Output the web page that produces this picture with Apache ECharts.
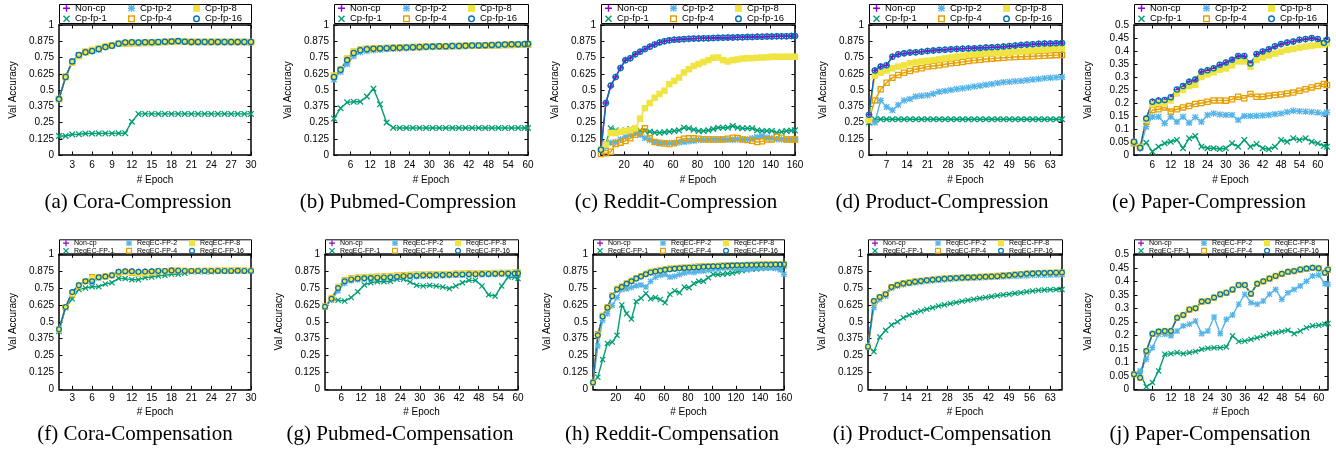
<!DOCTYPE html>
<html>
<head>
<meta charset="utf-8">
<script src="https://cdn.jsdelivr.net/npm/echarts@6.0.0/dist/echarts.min.js"></script>
<style>
html, body { margin: 0; padding: 0; background: #fff; }
#chart { width: 1336px; height: 451px; }
</style>
</head>
<body>
<div id="chart"></div>
<script>
// ---- series names ----
const compressionNames = ["Non-cp", "Cp-fp-1", "Cp-fp-2", "Cp-fp-4", "Cp-fp-8", "Cp-fp-16"];
const compensationNames = ["Non-cp", "ReqEC-FP-1", "ReqEC-FP-2", "ReqEC-FP-4", "ReqEC-FP-8", "ReqEC-FP-16"];

// ---- epochs (x values) and tick labels ----
const coraEpochs = [1,2,3,4,5,6,7,8,9,10,11,12,13,14,15,16,17,18,19,20,21,22,23,24,25,26,27,28,29,30];
const pubmedEpochs = [1,3,5,7,9,11,13,15,17,19,21,23,25,27,29,31,33,35,37,39,41,43,45,47,49,51,53,55,57,59,60];
const redditEpochs = [1,5,9,13,17,21,25,29,33,37,41,45,49,53,57,61,65,69,73,77,81,85,89,93,97,101,105,109,113,117,121,125,129,133,137,141,145,149,153,157,160];
const productEpochs = [1,3,5,7,9,11,13,15,17,19,21,23,25,27,29,31,33,35,37,39,41,43,45,47,49,51,53,55,57,59,61,63,65,67];
const paperEpochs = [0,2,4,6,8,10,12,14,16,18,20,22,24,26,28,30,32,34,36,38,40,42,44,46,48,50,52,54,56,58,60,62,63];

const coraTicks = [3,6,9,12,15,18,21,24,27,30];
const pubmedTicks = [6,12,18,24,30,36,42,48,54,60];
const redditTicks = [20,40,60,80,100,120,140,160];
const productTicks = [7,14,21,28,35,42,49,56,63];
const paperTicks = [6,12,18,24,30,36,42,48,54,60];

// ---- (a) Cora-Compression ----
const coraCpNonCp = [0.43,0.60,0.72,0.765,0.79,0.80,0.815,0.83,0.84,0.855,0.865,0.866,0.866,0.866,0.867,0.868,0.872,0.874,0.875,0.872,0.87,0.87,0.87,0.87,0.87,0.87,0.87,0.87,0.87,0.87];
const coraCpFp1 = [0.146,0.146,0.158,0.16,0.165,0.165,0.166,0.166,0.166,0.167,0.168,0.256,0.316,0.316,0.316,0.316,0.316,0.316,0.316,0.316,0.316,0.316,0.316,0.316,0.316,0.316,0.316,0.316,0.316,0.316];
const coraCpFp2 = [0.43,0.605,0.72,0.77,0.79,0.80,0.81,0.83,0.84,0.855,0.863,0.865,0.865,0.866,0.866,0.868,0.87,0.874,0.875,0.872,0.87,0.87,0.869,0.87,0.87,0.87,0.87,0.87,0.87,0.87];
const coraCpFp4 = [0.43,0.60,0.71,0.765,0.795,0.805,0.82,0.835,0.845,0.855,0.858,0.86,0.86,0.862,0.862,0.866,0.87,0.872,0.875,0.872,0.87,0.87,0.87,0.87,0.87,0.87,0.87,0.87,0.87,0.868];
const coraCpFp8 = [0.43,0.60,0.71,0.76,0.79,0.81,0.82,0.835,0.84,0.855,0.86,0.862,0.862,0.864,0.864,0.866,0.87,0.874,0.876,0.873,0.871,0.87,0.87,0.87,0.87,0.87,0.87,0.87,0.87,0.87];
const coraCpFp16 = [0.43,0.60,0.72,0.77,0.79,0.80,0.815,0.83,0.84,0.856,0.866,0.867,0.866,0.867,0.868,0.869,0.872,0.874,0.876,0.872,0.87,0.87,0.87,0.87,0.87,0.87,0.87,0.87,0.87,0.87];

// ---- (b) Pubmed-Compression ----
const pubmedCpNonCp = [0.60,0.655,0.73,0.787,0.808,0.815,0.818,0.82,0.822,0.823,0.825,0.827,0.829,0.83,0.832,0.834,0.835,0.836,0.837,0.838,0.839,0.84,0.842,0.843,0.845,0.846,0.848,0.849,0.85,0.852,0.853];
const pubmedCpFp1 = [0.28,0.36,0.405,0.41,0.41,0.45,0.51,0.39,0.25,0.21,0.208,0.208,0.208,0.208,0.208,0.208,0.208,0.208,0.208,0.208,0.208,0.208,0.208,0.208,0.208,0.208,0.208,0.208,0.208,0.208,0.208];
const pubmedCpFp2 = [0.58,0.64,0.70,0.76,0.79,0.80,0.805,0.81,0.815,0.818,0.82,0.822,0.825,0.827,0.829,0.83,0.832,0.833,0.835,0.836,0.838,0.839,0.84,0.842,0.843,0.845,0.846,0.848,0.849,0.85,0.852];
const pubmedCpFp4 = [0.61,0.66,0.74,0.795,0.812,0.818,0.82,0.822,0.823,0.825,0.826,0.828,0.83,0.831,0.833,0.835,0.836,0.837,0.838,0.839,0.84,0.841,0.842,0.843,0.844,0.845,0.846,0.847,0.848,0.849,0.85];
const pubmedCpFp8 = [0.61,0.66,0.735,0.79,0.81,0.816,0.82,0.821,0.823,0.824,0.826,0.828,0.83,0.831,0.833,0.834,0.836,0.837,0.838,0.839,0.84,0.841,0.843,0.844,0.846,0.847,0.849,0.85,0.851,0.853,0.854];
const pubmedCpFp16 = [0.60,0.655,0.73,0.785,0.806,0.814,0.818,0.82,0.822,0.823,0.825,0.827,0.829,0.831,0.833,0.834,0.836,0.837,0.838,0.839,0.84,0.842,0.843,0.845,0.847,0.848,0.85,0.851,0.852,0.854,0.855];

// ---- (c) Reddit-Compression ----
const redditCpNonCp = [0.04,0.40,0.53,0.60,0.67,0.73,0.745,0.775,0.795,0.815,0.835,0.85,0.865,0.875,0.882,0.886,0.889,0.891,0.893,0.895,0.897,0.898,0.899,0.90,0.90,0.901,0.902,0.904,0.905,0.906,0.907,0.908,0.909,0.91,0.911,0.912,0.913,0.913,0.914,0.915,0.915];
const redditCpFp1 = [0.04,0.09,0.205,0.19,0.18,0.19,0.20,0.19,0.19,0.185,0.18,0.172,0.172,0.175,0.18,0.185,0.19,0.21,0.205,0.195,0.185,0.185,0.19,0.20,0.21,0.21,0.21,0.223,0.21,0.205,0.205,0.205,0.19,0.185,0.185,0.185,0.172,0.178,0.185,0.188,0.19];
const redditCpFp2 = [0.04,0.065,0.095,0.10,0.12,0.14,0.155,0.167,0.155,0.13,0.115,0.10,0.095,0.093,0.093,0.095,0.097,0.10,0.105,0.11,0.115,0.118,0.12,0.12,0.12,0.12,0.118,0.118,0.12,0.12,0.12,0.128,0.138,0.146,0.135,0.128,0.122,0.12,0.12,0.12,0.12];
const redditCpFp4 = [0.008,0.013,0.025,0.085,0.095,0.108,0.128,0.155,0.175,0.205,0.128,0.10,0.092,0.088,0.085,0.09,0.115,0.125,0.128,0.128,0.125,0.122,0.12,0.12,0.12,0.12,0.125,0.133,0.13,0.12,0.115,0.11,0.10,0.105,0.12,0.12,0.14,0.133,0.12,0.12,0.12];
const redditCpFp8 = [0.04,0.08,0.17,0.17,0.18,0.185,0.19,0.205,0.28,0.36,0.40,0.44,0.47,0.495,0.545,0.57,0.595,0.635,0.66,0.685,0.70,0.715,0.73,0.748,0.75,0.73,0.72,0.73,0.735,0.742,0.745,0.745,0.748,0.75,0.752,0.755,0.756,0.756,0.756,0.756,0.756];
const redditCpFp16 = [0.04,0.40,0.535,0.60,0.67,0.728,0.745,0.775,0.795,0.815,0.833,0.85,0.866,0.875,0.882,0.886,0.889,0.892,0.894,0.896,0.897,0.898,0.899,0.90,0.901,0.902,0.903,0.904,0.905,0.906,0.907,0.908,0.909,0.91,0.911,0.912,0.913,0.914,0.914,0.915,0.916];

// ---- (d) Product-Compression ----
const productCpNonCp = [0.31,0.65,0.68,0.69,0.756,0.774,0.78,0.787,0.79,0.795,0.80,0.804,0.808,0.81,0.813,0.815,0.818,0.82,0.822,0.824,0.826,0.828,0.83,0.833,0.836,0.84,0.846,0.848,0.851,0.854,0.856,0.858,0.859,0.86];
const productCpFp1 = [0.25,0.275,0.275,0.275,0.275,0.275,0.275,0.275,0.275,0.275,0.275,0.275,0.275,0.275,0.275,0.275,0.275,0.275,0.275,0.275,0.275,0.275,0.275,0.275,0.275,0.275,0.275,0.275,0.275,0.275,0.275,0.275,0.275,0.275];
const productCpFp2 = [0.27,0.25,0.42,0.37,0.345,0.385,0.42,0.43,0.45,0.455,0.46,0.472,0.487,0.493,0.50,0.507,0.513,0.52,0.527,0.533,0.54,0.547,0.553,0.56,0.563,0.567,0.57,0.575,0.58,0.585,0.59,0.594,0.597,0.60];
const productCpFp4 = [0.27,0.42,0.505,0.556,0.595,0.615,0.633,0.646,0.66,0.667,0.68,0.685,0.69,0.698,0.705,0.71,0.716,0.723,0.728,0.733,0.738,0.741,0.745,0.748,0.751,0.754,0.756,0.758,0.76,0.762,0.764,0.766,0.768,0.77];
const productCpFp8 = [0.27,0.61,0.633,0.65,0.667,0.68,0.69,0.705,0.713,0.72,0.725,0.73,0.736,0.743,0.75,0.757,0.763,0.77,0.774,0.777,0.78,0.783,0.785,0.787,0.79,0.793,0.795,0.80,0.804,0.808,0.812,0.815,0.818,0.82];
const productCpFp16 = [0.31,0.65,0.68,0.69,0.756,0.775,0.782,0.788,0.79,0.795,0.80,0.804,0.808,0.81,0.813,0.815,0.818,0.82,0.822,0.824,0.826,0.828,0.831,0.834,0.838,0.842,0.847,0.85,0.852,0.855,0.857,0.858,0.86,0.861];

// ---- (e) Paper-Compression ----
const paperCpNonCp = [0.051,0.026,0.14,0.205,0.21,0.21,0.222,0.25,0.263,0.282,0.288,0.32,0.325,0.333,0.346,0.355,0.365,0.38,0.38,0.35,0.387,0.397,0.406,0.417,0.426,0.432,0.436,0.442,0.445,0.449,0.445,0.43,0.442];
const paperCpFp1 = [0.051,0.032,0.047,0.013,0.032,0.045,0.051,0.058,0.026,0.064,0.073,0.032,0.026,0.026,0.023,0.026,0.045,0.032,0.058,0.032,0.042,0.026,0.022,0.032,0.058,0.051,0.064,0.058,0.064,0.051,0.045,0.035,0.032];
const paperCpFp2 = [0.045,0.026,0.109,0.147,0.147,0.122,0.147,0.128,0.147,0.124,0.145,0.128,0.154,0.16,0.156,0.154,0.154,0.135,0.15,0.15,0.151,0.152,0.154,0.157,0.16,0.165,0.17,0.168,0.167,0.165,0.163,0.158,0.164];
const paperCpFp4 = [0.045,0.032,0.128,0.173,0.176,0.183,0.167,0.176,0.183,0.188,0.196,0.20,0.205,0.21,0.21,0.209,0.214,0.224,0.218,0.235,0.224,0.224,0.228,0.231,0.233,0.237,0.24,0.247,0.253,0.26,0.265,0.273,0.269];
const paperCpFp8 = [0.05,0.03,0.135,0.195,0.20,0.20,0.21,0.237,0.25,0.265,0.27,0.30,0.31,0.318,0.328,0.333,0.345,0.36,0.36,0.34,0.365,0.375,0.383,0.39,0.397,0.404,0.408,0.413,0.417,0.42,0.423,0.425,0.43];
const paperCpFp16 = [0.051,0.028,0.14,0.205,0.21,0.212,0.222,0.252,0.265,0.282,0.29,0.32,0.326,0.334,0.347,0.356,0.366,0.381,0.381,0.352,0.388,0.398,0.407,0.418,0.427,0.433,0.437,0.443,0.446,0.45,0.446,0.432,0.443];

// ---- (f) Cora-Compensation ----
const coraCeNonCp = [0.444,0.61,0.72,0.77,0.80,0.80,0.83,0.835,0.845,0.87,0.874,0.874,0.87,0.872,0.874,0.877,0.877,0.88,0.878,0.877,0.877,0.877,0.877,0.877,0.877,0.877,0.877,0.877,0.877,0.877];
const coraCeFp1 = [0.43,0.605,0.67,0.74,0.75,0.76,0.76,0.78,0.79,0.822,0.82,0.812,0.812,0.827,0.832,0.84,0.844,0.852,0.852,0.86,0.87,0.87,0.87,0.87,0.874,0.874,0.875,0.876,0.877,0.877];
const coraCeFp2 = [0.44,0.61,0.715,0.775,0.80,0.80,0.825,0.835,0.845,0.865,0.87,0.87,0.862,0.865,0.87,0.872,0.875,0.878,0.877,0.877,0.877,0.876,0.876,0.877,0.877,0.877,0.877,0.878,0.877,0.877];
const coraCeFp4 = [0.444,0.61,0.705,0.765,0.80,0.832,0.83,0.835,0.845,0.86,0.868,0.862,0.857,0.857,0.865,0.872,0.875,0.88,0.88,0.878,0.877,0.878,0.878,0.878,0.88,0.88,0.88,0.882,0.88,0.878];
const coraCeFp8 = [0.444,0.61,0.71,0.77,0.80,0.82,0.83,0.835,0.845,0.865,0.87,0.866,0.86,0.862,0.868,0.874,0.876,0.88,0.879,0.878,0.877,0.877,0.878,0.878,0.879,0.879,0.879,0.88,0.879,0.877];
const coraCeFp16 = [0.444,0.61,0.72,0.77,0.80,0.80,0.83,0.835,0.845,0.87,0.874,0.874,0.87,0.872,0.874,0.877,0.877,0.88,0.879,0.877,0.877,0.877,0.877,0.877,0.877,0.877,0.877,0.878,0.877,0.877];

// ---- (g) Pubmed-Compensation ----
const pubmedCeNonCp = [0.612,0.672,0.753,0.80,0.815,0.822,0.824,0.827,0.829,0.83,0.832,0.835,0.84,0.841,0.843,0.845,0.846,0.847,0.848,0.849,0.852,0.853,0.854,0.855,0.856,0.857,0.858,0.858,0.859,0.86,0.86];
const pubmedCeFp1 = [0.612,0.667,0.66,0.654,0.68,0.723,0.773,0.79,0.797,0.797,0.80,0.815,0.815,0.795,0.77,0.765,0.77,0.765,0.758,0.746,0.765,0.79,0.807,0.807,0.765,0.70,0.69,0.765,0.832,0.83,0.82];
const pubmedCeFp2 = [0.61,0.66,0.73,0.785,0.805,0.812,0.815,0.82,0.822,0.825,0.828,0.83,0.832,0.833,0.835,0.837,0.838,0.84,0.842,0.843,0.845,0.846,0.847,0.848,0.849,0.85,0.851,0.852,0.853,0.853,0.854];
const pubmedCeFp4 = [0.615,0.675,0.76,0.81,0.822,0.828,0.83,0.833,0.835,0.837,0.84,0.843,0.846,0.848,0.85,0.851,0.852,0.853,0.854,0.855,0.857,0.858,0.859,0.86,0.861,0.862,0.863,0.864,0.864,0.865,0.865];
const pubmedCeFp8 = [0.613,0.673,0.758,0.805,0.818,0.825,0.827,0.83,0.832,0.834,0.836,0.84,0.843,0.845,0.847,0.849,0.85,0.851,0.852,0.853,0.855,0.856,0.857,0.858,0.859,0.86,0.861,0.862,0.862,0.863,0.863];
const pubmedCeFp16 = [0.612,0.67,0.75,0.80,0.814,0.82,0.822,0.825,0.827,0.829,0.83,0.834,0.838,0.84,0.842,0.844,0.845,0.846,0.847,0.848,0.85,0.851,0.852,0.853,0.854,0.855,0.856,0.857,0.858,0.858,0.859];

// ---- (h) Reddit-Compensation ----
const redditCeNonCp = [0.05,0.40,0.54,0.605,0.69,0.74,0.758,0.782,0.80,0.82,0.835,0.852,0.866,0.873,0.879,0.885,0.89,0.893,0.896,0.899,0.90,0.903,0.905,0.907,0.909,0.911,0.912,0.914,0.915,0.917,0.918,0.919,0.92,0.92,0.921,0.921,0.922,0.923,0.924,0.925,0.926];
const redditCeFp1 = [0.05,0.09,0.22,0.34,0.35,0.40,0.625,0.56,0.52,0.65,0.675,0.71,0.67,0.68,0.665,0.642,0.704,0.73,0.716,0.757,0.753,0.783,0.80,0.80,0.827,0.852,0.85,0.852,0.857,0.862,0.87,0.878,0.884,0.889,0.892,0.895,0.897,0.899,0.90,0.905,0.914];
const redditCeFp2 = [0.05,0.32,0.51,0.56,0.62,0.68,0.74,0.745,0.755,0.767,0.773,0.758,0.80,0.83,0.845,0.85,0.832,0.838,0.85,0.862,0.868,0.865,0.875,0.877,0.882,0.889,0.888,0.897,0.90,0.898,0.896,0.892,0.889,0.893,0.898,0.90,0.90,0.90,0.895,0.885,0.852];
const redditCeFp4 = [0.05,0.41,0.545,0.61,0.695,0.745,0.762,0.786,0.805,0.825,0.84,0.856,0.87,0.877,0.883,0.889,0.894,0.897,0.90,0.903,0.905,0.907,0.909,0.911,0.913,0.914,0.916,0.917,0.918,0.919,0.92,0.921,0.922,0.923,0.924,0.925,0.926,0.926,0.927,0.928,0.928];
const redditCeFp8 = [0.05,0.40,0.54,0.605,0.69,0.742,0.76,0.784,0.802,0.822,0.837,0.854,0.868,0.875,0.881,0.887,0.892,0.895,0.898,0.901,0.903,0.905,0.907,0.909,0.911,0.913,0.914,0.915,0.917,0.918,0.919,0.92,0.921,0.922,0.923,0.924,0.924,0.925,0.926,0.926,0.927];
const redditCeFp16 = [0.05,0.40,0.54,0.605,0.69,0.74,0.758,0.782,0.80,0.82,0.835,0.852,0.866,0.873,0.879,0.885,0.89,0.893,0.896,0.899,0.901,0.903,0.905,0.907,0.909,0.911,0.912,0.914,0.915,0.917,0.918,0.919,0.92,0.92,0.921,0.922,0.922,0.923,0.924,0.925,0.926];

// ---- (i) Product-Compensation ----
const productCeNonCp = [0.316,0.654,0.684,0.704,0.758,0.773,0.783,0.79,0.797,0.802,0.807,0.811,0.815,0.818,0.822,0.824,0.826,0.827,0.829,0.83,0.832,0.834,0.837,0.84,0.843,0.847,0.852,0.855,0.857,0.86,0.861,0.862,0.863,0.864];
const productCeFp1 = [0.316,0.279,0.388,0.437,0.477,0.50,0.53,0.55,0.568,0.58,0.593,0.605,0.617,0.626,0.635,0.643,0.652,0.66,0.667,0.674,0.68,0.687,0.694,0.70,0.705,0.711,0.716,0.722,0.728,0.733,0.736,0.738,0.739,0.74];
const productCeFp2 = [0.316,0.605,0.667,0.69,0.75,0.765,0.775,0.783,0.79,0.795,0.80,0.804,0.808,0.812,0.815,0.818,0.82,0.822,0.824,0.826,0.828,0.83,0.832,0.834,0.836,0.838,0.84,0.842,0.844,0.845,0.846,0.847,0.848,0.849];
const productCeFp4 = [0.316,0.65,0.684,0.704,0.758,0.775,0.785,0.793,0.80,0.805,0.81,0.814,0.818,0.821,0.824,0.826,0.828,0.83,0.832,0.834,0.836,0.838,0.841,0.844,0.847,0.85,0.854,0.857,0.859,0.862,0.863,0.864,0.865,0.866];
const productCeFp8 = [0.316,0.652,0.684,0.704,0.758,0.774,0.784,0.792,0.798,0.803,0.808,0.812,0.816,0.82,0.823,0.825,0.827,0.829,0.831,0.832,0.834,0.836,0.839,0.842,0.845,0.849,0.853,0.856,0.858,0.861,0.862,0.863,0.864,0.865];
const productCeFp16 = [0.316,0.654,0.684,0.704,0.758,0.773,0.783,0.79,0.797,0.802,0.807,0.811,0.815,0.818,0.822,0.824,0.826,0.828,0.83,0.831,0.833,0.835,0.838,0.841,0.844,0.848,0.853,0.856,0.858,0.861,0.862,0.863,0.864,0.865];

// ---- (j) Paper-Compensation ----
const paperCeNonCp = [0.056,0.043,0.142,0.206,0.214,0.216,0.216,0.265,0.275,0.296,0.30,0.325,0.327,0.34,0.352,0.358,0.37,0.386,0.386,0.354,0.391,0.40,0.41,0.42,0.428,0.435,0.438,0.444,0.447,0.45,0.448,0.432,0.444];
const paperCeFp1 = [0.056,0.058,0.009,0.025,0.068,0.13,0.132,0.136,0.132,0.136,0.14,0.148,0.152,0.154,0.154,0.157,0.198,0.177,0.179,0.185,0.191,0.198,0.206,0.21,0.214,0.219,0.206,0.216,0.228,0.235,0.237,0.241,0.244];
const paperCeFp2 = [0.056,0.068,0.111,0.154,0.204,0.204,0.198,0.216,0.235,0.241,0.253,0.206,0.216,0.268,0.206,0.259,0.275,0.315,0.352,0.321,0.315,0.327,0.352,0.37,0.333,0.358,0.37,0.383,0.40,0.42,0.423,0.391,0.389];
const paperCeFp4 = [0.055,0.042,0.14,0.205,0.212,0.215,0.215,0.264,0.274,0.295,0.30,0.324,0.326,0.339,0.351,0.357,0.369,0.385,0.385,0.353,0.39,0.399,0.409,0.419,0.427,0.434,0.437,0.443,0.446,0.449,0.447,0.431,0.443];
const paperCeFp8 = [0.056,0.044,0.143,0.207,0.215,0.217,0.217,0.266,0.276,0.297,0.301,0.326,0.328,0.341,0.353,0.359,0.371,0.387,0.387,0.355,0.392,0.401,0.411,0.421,0.429,0.436,0.439,0.445,0.448,0.451,0.449,0.433,0.445];
const paperCeFp16 = [0.056,0.043,0.142,0.206,0.214,0.216,0.216,0.265,0.275,0.296,0.30,0.325,0.327,0.34,0.352,0.358,0.37,0.386,0.386,0.354,0.391,0.40,0.41,0.42,0.428,0.435,0.438,0.444,0.447,0.45,0.448,0.432,0.444];

// gnuplot-like colours and point types
const palette = ["#9400d3", "#009e73", "#56b4e9", "#e69f00", "#f0e442", "#0072b2"];
const plusPath = "M4,0H6V4H10V6H6V10H4V6H0V4H4Z";
const crossPath = "M1.4,0L5,3.6L8.6,0L10,1.4L6.4,5L10,8.6L8.6,10L5,6.4L1.4,10L0,8.6L3.6,5L0,1.4Z";
const symbols = [
    "path://" + plusPath,
    "path://" + crossPath,
    "path://" + plusPath + " " + crossPath,
    "path://M0,0H10V10H0Z M2,2V8H8V2Z",
    "rect",
    "path://M5,0A5,5 0 1,1 5,10A5,5 0 1,1 5,0Z M5,2A3,3 0 1,0 5,8A3,3 0 1,0 5,2Z",
];
// gnuplot key fills column by column
const legendOrder = [0, 2, 4, 1, 3, 5];

const rowLayouts = [
    { top: 25, height: 130, boxTop: 4, boxBottom: 23, legendTop: 3.3, legendFont: 9.5, legendIcon: 7, legendGap: 0.5, legendCol: 65, legendLine: 8, labelMargin: 5, nameGap: 20, captionTop: 191.5, symbolSize: 6.5 },
    { top: 254.3, height: 135, boxTop: 239.3, boxBottom: 253.3, legendTop: 239.7, legendFont: 7, legendIcon: 6, legendGap: 0.6, legendCol: 63, legendLine: 6, labelMargin: 4, nameGap: 18, captionTop: 423.5, symbolSize: 6 },
];

const panels = [
    { caption: "(a) Cora-Compression", row: 0, left: 59, width: 192, captionX: 138, names: compressionNames, epochs: coraEpochs, xMin: 1, xMax: 30, xTicks: coraTicks, yMax: 1, yStep: 0.125,
      values: [coraCpNonCp, coraCpFp1, coraCpFp2, coraCpFp4, coraCpFp8, coraCpFp16] },
    { caption: "(b) Pubmed-Compression", row: 0, left: 334, width: 194, captionX: 408, names: compressionNames, epochs: pubmedEpochs, xMin: 1, xMax: 60, xTicks: pubmedTicks, yMax: 1, yStep: 0.125,
      values: [pubmedCpNonCp, pubmedCpFp1, pubmedCpFp2, pubmedCpFp4, pubmedCpFp8, pubmedCpFp16] },
    { caption: "(c) Reddit-Compression", row: 0, left: 601, width: 194, captionX: 676, names: compressionNames, epochs: redditEpochs, xMin: 1, xMax: 160, xTicks: redditTicks, yMax: 1, yStep: 0.125,
      values: [redditCpNonCp, redditCpFp1, redditCpFp2, redditCpFp4, redditCpFp8, redditCpFp16] },
    { caption: "(d) Product-Compression", row: 0, left: 869, width: 193, captionX: 942, names: compressionNames, epochs: productEpochs, xMin: 1, xMax: 67, xTicks: productTicks, yMax: 1, yStep: 0.125,
      values: [productCpNonCp, productCpFp1, productCpFp2, productCpFp4, productCpFp8, productCpFp16] },
    { caption: "(e) Paper-Compression", row: 0, left: 1134, width: 193, captionX: 1209, names: compressionNames, epochs: paperEpochs, xMin: 0, xMax: 63, xTicks: paperTicks, yMax: 0.5, yStep: 0.05,
      values: [paperCpNonCp, paperCpFp1, paperCpFp2, paperCpFp4, paperCpFp8, paperCpFp16] },
    { caption: "(f) Cora-Compensation", row: 1, left: 59, width: 192, captionX: 135, names: compensationNames, epochs: coraEpochs, xMin: 1, xMax: 30, xTicks: coraTicks, yMax: 1, yStep: 0.125,
      values: [coraCeNonCp, coraCeFp1, coraCeFp2, coraCeFp4, coraCeFp8, coraCeFp16] },
    { caption: "(g) Pubmed-Compensation", row: 1, left: 325, width: 193, captionX: 400, names: compensationNames, epochs: pubmedEpochs, xMin: 1, xMax: 60, xTicks: pubmedTicks, yMax: 1, yStep: 0.125,
      values: [pubmedCeNonCp, pubmedCeFp1, pubmedCeFp2, pubmedCeFp4, pubmedCeFp8, pubmedCeFp16] },
    { caption: "(h) Reddit-Compensation", row: 1, left: 593, width: 191, captionX: 672, names: compensationNames, epochs: redditEpochs, xMin: 1, xMax: 160, xTicks: redditTicks, yMax: 1, yStep: 0.125,
      values: [redditCeNonCp, redditCeFp1, redditCeFp2, redditCeFp4, redditCeFp8, redditCeFp16] },
    { caption: "(i) Product-Compensation", row: 1, left: 868, width: 194, captionX: 942, names: compensationNames, epochs: productEpochs, xMin: 1, xMax: 67, xTicks: productTicks, yMax: 1, yStep: 0.125,
      values: [productCeNonCp, productCeFp1, productCeFp2, productCeFp4, productCeFp8, productCeFp16] },
    { caption: "(j) Paper-Compensation", row: 1, left: 1134, width: 194, captionX: 1210, names: compensationNames, epochs: paperEpochs, xMin: 0, xMax: 63, xTicks: paperTicks, yMax: 0.5, yStep: 0.05,
      values: [paperCeNonCp, paperCeFp1, paperCeFp2, paperCeFp4, paperCeFp8, paperCeFp16] },
];

const option = {
    animation: false,
    backgroundColor: "#ffffff",
    textStyle: { fontFamily: "Liberation Sans, Arial, sans-serif" },
    title: [],
    grid: [],
    xAxis: [],
    yAxis: [],
    legend: [],
    graphic: [],
    series: [],
};

const axisLineStyle = { color: "#000", width: 1.5 };
const tickLineStyle = { color: "#000", width: 1 };

panels.forEach((panel, i) => {
    const layout = rowLayouts[panel.row];

    option.grid.push({ left: panel.left, top: layout.top, width: panel.width, height: layout.height });

    const xCommon = {
        gridIndex: i,
        type: "value",
        min: panel.xMin,
        max: panel.xMax,
        splitLine: { show: false },
        axisLine: { onZero: false, lineStyle: axisLineStyle },
        axisTick: { inside: true, length: 3.5, customValues: panel.xTicks, lineStyle: tickLineStyle },
    };
    option.xAxis.push(Object.assign({}, xCommon, {
        position: "bottom",
        name: "# Epoch",
        nameLocation: "middle",
        nameGap: layout.nameGap,
        nameTextStyle: { color: "#000", fontSize: 10 },
        axisLabel: { customValues: panel.xTicks, color: "#000", fontSize: 10, margin: layout.labelMargin },
    }));
    option.xAxis.push(Object.assign({}, xCommon, { position: "top", axisLabel: { show: false } }));

    const yCommon = {
        gridIndex: i,
        type: "value",
        min: 0,
        max: panel.yMax,
        interval: panel.yStep,
        splitLine: { show: false },
        axisLine: { show: true, onZero: false, lineStyle: axisLineStyle },
        axisTick: { show: true, inside: true, length: 3.5, lineStyle: tickLineStyle },
    };
    option.yAxis.push(Object.assign({}, yCommon, {
        position: "left",
        name: "Val Accuracy",
        nameLocation: "middle",
        nameGap: 41,
        nameTextStyle: { color: "#000", fontSize: 10 },
        axisLabel: { color: "#000", fontSize: 10, margin: 5 },
    }));
    option.yAxis.push(Object.assign({}, yCommon, { position: "right", axisLabel: { show: false } }));

    option.legend.push({
        left: panel.left + 4,
        top: layout.legendTop,
        width: 3 * layout.legendCol + 1,
        orient: "horizontal",
        padding: 0,
        itemGap: layout.legendGap,
        itemWidth: layout.legendIcon,
        itemHeight: layout.legendIcon,
        selectedMode: false,
        textStyle: {
            color: "#000",
            fontSize: layout.legendFont,
            lineHeight: layout.legendLine,
            width: layout.legendCol - layout.legendGap - layout.legendIcon - 5,
        },
        data: legendOrder.map((k) => ({ name: panel.names[k], icon: symbols[k] })),
    });

    // frame of the key
    option.graphic.push({
        type: "rect",
        silent: true,
        shape: { x: panel.left + 0.5, y: layout.boxTop + 0.5, width: panel.width, height: layout.boxBottom - layout.boxTop },
        style: { fill: "none", stroke: "#000", lineWidth: 1 },
    });

    option.title.push({
        text: panel.caption,
        left: panel.captionX,
        top: layout.captionTop,
        textAlign: "center",
        padding: 0,
        textStyle: { fontFamily: "Liberation Serif, Times New Roman, serif", fontSize: 21, fontWeight: "normal", color: "#000", lineHeight: 21 },
    });

    panel.values.forEach((values, k) => {
        option.series.push({
            type: "line",
            name: panel.names[k],
            xAxisIndex: 2 * i,
            yAxisIndex: 2 * i,
            data: panel.epochs.map((epoch, j) => [epoch, values[j]]),
            symbol: symbols[k],
            symbolSize: layout.symbolSize,
            lineStyle: { width: 1.4, color: palette[k] },
            itemStyle: { color: palette[k] },
            emphasis: { disabled: true },
        });
    });
});

const chart = echarts.init(document.getElementById("chart"), null, { renderer: "canvas" });
chart.setOption(option);
</script>
</body>
</html>
